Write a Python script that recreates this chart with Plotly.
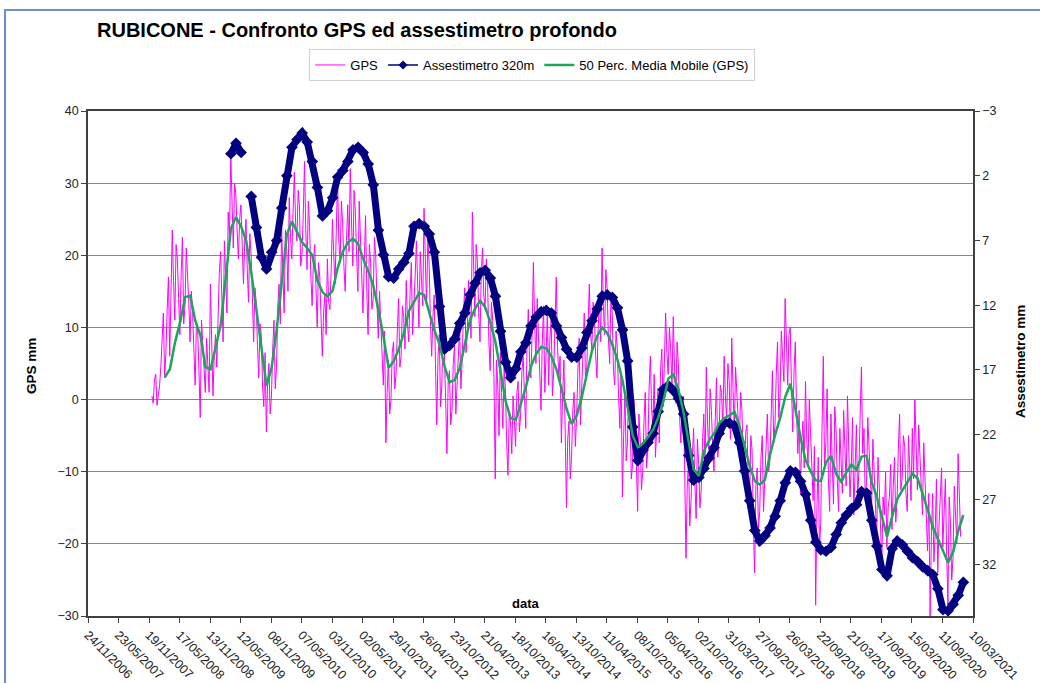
import pandas as pd
import plotly.graph_objects as go

# ---- data -------------------------------------------------------------
# GPS vertical displacement (mm), one reading every 7.5 days (180 h)
GPS_START = "2007-12-06"
GPS_STEP = "180h"
GPS_MM = [
    0.5, -0.5, 2.8, 3.5, -0.8, 0.8, 1.9, 4.5, 8.5, 12.0, 3.0, 6.5, 12.5, 17.0, 6.0, 14.0, 23.5, 16.5, 11.0, 21.5,
    19.5, 14.0, 9.0, 17.5, 22.5, 10.5, 13.0, 21.0, 18.0, 13.5, 8.0, 15.0, 12.0, 6.5, 2.0, 10.5, 9.5, 4.0, -2.5, 11.0,
    7.5, 3.5, 1.0, 8.5, 5.5, 1.0, 16.0, 9.5, 0.5, 6.0, 9.0, 4.5, 12.5, 17.5, 20.5, 13.0, 8.0, 22.0, 17.5, 12.0,
    26.0, 22.5, 34.0, 25.5, 21.0, 30.0, 28.5, 23.5, 19.5, 25.0, 27.0, 21.5, 16.0, 22.0, 25.0, 18.0, 13.5, 23.0, 20.0, 14.5,
    8.0, 15.5, 13.5, 7.5, 3.0, 10.5, 9.0, 2.0, -1.0, 6.5, -4.5, 2.5, 5.0, -2.0, 0.5, 7.0, 11.0, 1.5, 4.5, 13.0,
    16.0, 10.5, 24.0, 17.5, 12.0, 23.5, 21.0, 15.0, 28.0, 22.5, 19.5, 26.0, 31.5, 24.5, 22.0, 29.0, 27.0, 18.5, 20.0, 25.5,
    33.0, 23.5, 18.0, 27.5, 24.0, 17.0, 13.0, 19.0, 21.5, 15.5, 10.0, 19.0, 17.0, 11.5, 6.0, 12.0, 14.5, 9.0, 19.5, 13.5,
    12.5, 18.0, 25.0, 20.0, 16.0, 23.5, 30.5, 22.0, 19.0, 27.5, 24.5, 18.5, 15.0, 22.0, 27.0, 20.5, 32.0, 24.5, 18.5, 29.0,
    26.0, 20.0, 15.0, 27.5, 22.5, 16.5, 12.0, 19.0, 25.5, 15.0, 9.0, 21.5, 19.0, 12.5, 14.0, 22.5, 20.0, 13.5, 8.5, 15.0,
    11.0, 6.5, 2.0, 9.5, -6.0, 1.0, 5.5, -2.0, 0.0, 6.5, 8.0, 1.5, 3.5, 9.5, 14.0, 4.5, 6.0, 13.0, 11.5, 7.0,
    16.5, 10.5, 8.0, 14.5, 19.0, 9.0, 12.5, 17.0, 22.0, 15.5, 10.0, 20.5, 17.5, 13.0, 26.5, 18.5, 13.0, 22.5, 19.0, 11.0,
    6.0, 11.5, 14.5, 5.0, -3.5, 6.0, 9.0, -1.0, 2.0, 9.5, 6.5, 0.0, -7.5, 2.5, 4.0, -3.5, -1.5, 5.0, 7.5, -2.0,
    2.5, 7.0, 10.0, 1.5, 5.5, 12.0, 15.5, 6.5, 9.0, 16.5, 13.0, 8.5, 26.0, 16.0, 11.5, 21.5, 19.0, 12.0, 8.0, 17.5,
    21.0, 14.5, 12.5, 19.5, 16.0, 8.0, 4.0, 13.5, 11.0, 3.0, -11.0, 5.5, 2.0, -5.0, 6.5, 1.0, -4.0, 4.5, 1.5, -6.0,
    -10.5, -2.0, -3.0, -7.5, 0.5, -2.5, -6.5, 1.0, 2.5, -4.5, -2.0, 4.0, 6.0, 0.5, -4.0, 7.5, 12.5, 5.0, 3.0, 9.0,
    19.0, 10.5, 5.0, 14.0, 9.5, 2.5, -1.5, 8.0, 13.0, 1.0, 6.5, 12.0, 2.0, 8.5, 11.0, 0.5, 4.0, 12.5, 17.0, 7.5,
    3.0, 6.0, -6.0, 0.5, 5.5, -4.0, -15.0, -5.5, -3.0, -11.0, -8.0, -1.5, 1.0, -6.5, -2.5, 4.0, 8.5, -3.5, 0.5, 6.5,
    12.0, 2.5, 4.5, 10.5, 16.0, 9.0, 7.0, 13.5, 11.5, 6.0, 3.0, 10.0, 14.0, 8.0, 21.0, 13.0, 9.0, 18.0, 15.5, 8.5,
    5.0, 14.5, 12.0, 4.0, 2.0, 9.5, 7.0, 0.5, -4.0, 3.5, -13.5, -5.0, 1.0, -8.5, -6.0, 2.5, -1.5, -11.0, -9.0, 0.0,
    -3.0, -9.0, -15.5, -2.0, -5.5, -12.5, -10.0, -3.0, 1.0, -9.5, -7.0, 1.5, 6.0, -1.5, -3.5, 3.5, -8.0, -4.0, 1.5, -6.0,
    4.0, 7.0, -1.0, 5.0, 12.0, 6.5, 3.5, 10.0, 7.0, 1.5, 11.5, 4.5, -0.5, 8.0, 5.0, -2.5, -6.0, -1.0, 0.5, -10.0,
    -22.0, -12.0, -8.5, -17.5, -14.0, -8.0, -4.0, -11.5, -16.5, -5.5, -9.0, -15.0, -12.5, -6.0, -2.0, -9.5, 4.5, -3.5, -7.0, 1.5,
    -1.5, -6.5, -10.0, -3.0, 3.0, -8.0, -5.5, 2.0, 1.0, -4.0, 6.0, 0.5, -3.0, 5.0, 2.5, -5.5, 8.5, 1.5, -4.5, 4.5,
    0.5, -4.0, -6.0, 1.0, -1.5, -7.5, -10.0, -4.5, -3.5, -12.0, -14.0, -5.0, -7.0, -17.5, -24.0, -12.0, -9.5, -18.0, -15.5, -8.0,
    -5.0, -15.5, -12.0, -6.5, -2.0, -10.0, -8.5, -1.0, 4.0, -6.0, -3.5, 3.5, 8.0, -2.5, 0.5, 9.5, 6.5, 2.5, 14.0, 5.5,
    2.0, 9.0, 10.0, 1.5, -4.5, 4.0, 8.0, -2.0, -7.5, -1.5, -13.0, -6.0, -3.0, -9.5, 2.5, -5.5, -9.0, 0.0, -5.0, -11.5,
    -14.0, -6.5, -28.5, -15.0, -8.0, -21.0, -17.0, -4.0, 6.0, -9.5, -6.0, 1.5, -11.0, -15.5, -2.0, -8.5, -14.5, -1.0, -4.0, -11.0,
    -15.5, -4.0, -7.5, -13.0, -1.5, -8.0, -12.0, 0.5, -5.0, -13.5, -9.5, -2.5, -16.0, -9.0, -3.5, -13.5, -10.0, -2.0, 4.5, -7.5,
    -4.0, -14.0, -11.5, -2.5, -6.0, -11.0, -15.0, -5.5, -9.0, -14.5, -19.5, -8.0, -12.0, -17.5, -23.0, -13.5, -16.0, -10.0, -20.5, -15.0,
    -13.5, -9.0, -18.0, -12.0, -8.0, -17.0, -14.0, -7.0, -2.0, -12.5, -11.0, -5.0, -6.5, -13.0, -15.5, -5.0, -9.0, -14.0, -4.0, -11.0,
    0.0, -7.0, -12.5, -3.5, -7.5, -11.5, -16.0, -6.0, -10.5, -17.5, -21.0, -13.0, -30.0, -19.0, -13.0, -22.5, -18.5, -11.0, -24.0, -17.5,
    -14.0, -9.5, -20.5, -16.0, -11.0, -21.0, -28.5, -13.5, -17.0, -25.0, -22.0, -12.0, -15.5, -20.0, -7.5, -13.0, -19.0,
]

# monthly series (every 30 days): moving average of GPS and deep extensometer
MONTHLY_START = "2008-02-20"
MONTHLY_STEP = "30D"
MEDIA_MOBILE_MM = [
    3.1, 4.2, 7.9, 10.7, 14.2, 14.4, 10.9, 8.9, 4.5, 4.2,
    7.3, 10.4, 17.0, 23.7, 25.3, 24.0, 22.0, 17.6, 12.5, 6.8,
    1.9, 4.4, 9.7, 16.3, 22.9, 24.7, 23.2, 21.8, 21.0, 20.0,
    16.5, 14.9, 14.3, 15.1, 18.3, 20.5, 21.8, 22.3, 21.6, 19.5,
    17.8, 15.8, 12.4, 8.7, 4.4, 5.3, 7.0, 9.2, 12.3, 13.6,
    14.8, 14.5, 12.1, 9.6, 7.7, 4.6, 2.4, 2.7, 4.4, 7.8,
    11.0, 12.6, 13.7, 12.8, 10.7, 8.0, 3.6, -0.2, -2.6, -2.8,
    -0.6, 1.8, 4.6, 6.3, 7.3, 7.1, 6.0, 4.2, 1.5, -1.3,
    -3.4, -2.2, 0.4, 3.8, 6.8, 8.8, 10.0, 9.2, 7.6, 5.5,
    2.6, -1.1, -5.0, -6.6, -6.1, -5.2, -4.2, -2.5, -0.3, 2.9,
    3.5, 1.3, -1.8, -5.9, -9.7, -10.6, -7.1, -5.7, -4.7, -3.3,
    -2.6, -2.2, -1.7, -3.7, -6.5, -9.2, -11.3, -11.8, -11.1, -7.6,
    -4.9, -2.5, 0.4, 2.2, -1.4, -5.3, -8.4, -10.0, -11.2, -11.3,
    -8.7, -7.8, -10.3, -11.4, -10.1, -9.0, -9.7, -7.9, -7.8, -11.5,
    -13.5, -16.4, -19.0, -16.2, -13.8, -12.6, -11.5, -10.3, -10.9, -13.0,
    -15.3, -17.7, -19.3, -21.0, -22.6, -21.1, -18.2, -16.0,
]
ASSESTIMETRO_MM = [None] * 13 + [0.3, -0.5, 0.2, None] + [
    3.6, 6.0, 8.3, 9.2, 7.9, 7.0, 4.5, 2.0, -0.2, -0.8,
    -1.3, -0.6, 0.9, 2.9, 5.1, 4.7, 3.7, 2.1, 1.6, 0.9,
    0.0, -0.2, 0.2, 1.1, 2.7, 6.2, 8.1, 9.8, 9.9, 9.2,
    8.7, 8.0, 5.9, 5.7, 5.9, 6.5, 7.9, 12.1, 15.4, 15.1,
    14.6, 13.4, 12.6, 11.2, 10.3, 9.5, 9.3, 9.9, 11.3, 14.0,
    16.4, 17.6, 16.9, 15.6, 14.9, 13.6, 12.9, 12.5, 12.4, 12.6,
    13.6, 14.5, 15.4, 16.0, 16.0, 15.3, 14.1, 13.2, 12.3, 11.3,
    11.2, 11.4, 12.2, 13.9, 16.3, 21.4, 24.0, 23.2, 22.6, 21.9,
    20.2, 18.5, 18.2, 18.6, 19.2, 20.4, 23.6, 25.5, 25.3, 24.6,
    23.8, 23.0, 21.9, 21.1, 21.1, 21.3, 22.6, 24.8, 27.1, 29.4,
    30.2, 29.8, 29.2, 28.3, 27.1, 25.7, 24.8, 24.9, 25.6, 26.6,
    28.6, 30.3, 30.9, 31.0, 30.7, 29.7, 28.8, 28.2, 27.7, 27.4,
    26.4, 26.5, 28.6, 30.6, 32.4, 32.9, 30.8, 30.2, 30.5, 31.0,
    31.5, 31.8, 32.2, 32.5, 32.8, 33.9, 35.5, 35.6, 35.1, 34.4,
    33.4,
]

# date axis: one tick every 180 days
X_START = "2006-11-24"
X_END = "2021-03-10"
TICK_DATES = pd.date_range(X_START, X_END, freq="180D")
TICK_LABELS = [d.strftime("%d/%m/%Y") for d in TICK_DATES]

GPS_TICKS = [-30, -20, -10, 0, 10, 20, 30, 40]
ASS_TICKS = [-3, 2, 7, 12, 17, 22, 27, 32]

gps_dates = pd.date_range(GPS_START, periods=len(GPS_MM), freq=GPS_STEP)
monthly_dates = pd.date_range(MONTHLY_START, periods=len(MEDIA_MOBILE_MM), freq=MONTHLY_STEP)

# ---- figure -----------------------------------------------------------
FONT = "Liberation Sans, Arial, sans-serif"
AX = "#404040"

fig = go.Figure()

fig.add_trace(go.Scatter(
    x=gps_dates, y=GPS_MM, mode="lines", name="GPS",
    line=dict(color="#FF00FF", width=1), yaxis="y",
))
fig.add_trace(go.Scatter(
    x=monthly_dates, y=ASSESTIMETRO_MM, mode="lines+markers",
    line=dict(color="#000080", width=7),
    marker=dict(symbol="diamond", size=9, color="#000080"),
    yaxis="y2", showlegend=False, connectgaps=False,
))
fig.add_trace(go.Scatter(
    x=[None], y=[None], mode="lines+markers", name="Assestimetro 320m",
    line=dict(color="#000080", width=1.5),
    marker=dict(symbol="diamond", size=7, color="#000080"),
    yaxis="y2",
))
fig.add_trace(go.Scatter(
    x=monthly_dates, y=MEDIA_MOBILE_MM, mode="lines",
    name="50 Perc. Media Mobile (GPS)",
    line=dict(color="#1DA55A", width=2.5), yaxis="y3",
))

L, R, T, B = 88, 67, 111, 67
W, H = 1040, 683
pw, ph = W - L - R, H - T - B


def px_x(x):
    return (x - L) / pw


def px_y(y):
    return (H - B - y) / ph


tick_font = dict(family=FONT, size=12.5, color="#222222")

fig.update_layout(
    width=W, height=H, autosize=False,
    margin=dict(l=L, r=R, t=T, b=B, autoexpand=False),
    paper_bgcolor="white", plot_bgcolor="white",
    font=dict(family=FONT, size=12, color="black"),
    showlegend=True,
    legend=dict(
        orientation="h", x=0.502, xanchor="center", y=px_y(65), yanchor="middle",
        font=dict(family=FONT, size=13, color="black"),
        bordercolor="#D0D0D0", borderwidth=1, bgcolor="white",
        itemwidth=30,
    ),
    xaxis=dict(
        type="date", range=[X_START, X_END], automargin=False,
        tickmode="array", tickvals=TICK_DATES, ticktext=TICK_LABELS,
        tickangle=45, ticks="outside", ticklen=5, tickcolor=AX,
        showline=True, linecolor=AX, linewidth=1.5, mirror=True,
        showgrid=False, zeroline=False, tickfont=tick_font,
    ),
    yaxis=dict(
        range=[-30, 40], tickmode="array", tickvals=GPS_TICKS, automargin=False,
        ticks="outside", ticklen=5, tickcolor=AX,
        showline=True, linecolor=AX, linewidth=1.5,
        showgrid=True, gridcolor="#868686", gridwidth=1, zeroline=False,
        tickfont=tick_font,
    ),
    yaxis2=dict(
        overlaying="y", side="right", range=[36, -3], automargin=False,
        tickmode="array", tickvals=ASS_TICKS,
        ticks="outside", ticklen=5, tickcolor=AX,
        showline=True, linecolor=AX, linewidth=1.5,
        showgrid=False, zeroline=False, tickfont=tick_font,
    ),
    yaxis3=dict(overlaying="y", range=[-30, 40], visible=False, automargin=False),
)

fig.add_annotation(
    text="<b>RUBICONE - Confronto GPS ed assestimetro profondo</b>",
    xref="paper", yref="paper", x=px_x(95), y=px_y(30),
    xanchor="left", yanchor="middle", showarrow=False,
    font=dict(family=FONT, size=20, color="black"),
)
fig.add_annotation(
    text="<b>GPS mm</b>", textangle=-90,
    xref="paper", yref="paper", x=px_x(31), y=px_y(366),
    xanchor="center", yanchor="middle", showarrow=False,
    font=dict(family=FONT, size=13.5, color="black"),
)
fig.add_annotation(
    text="<b>Assestimetro mm</b>", textangle=-90,
    xref="paper", yref="paper", x=px_x(1020), y=px_y(362),
    xanchor="center", yanchor="middle", showarrow=False,
    font=dict(family=FONT, size=13.5, color="black"),
)
fig.add_annotation(
    text="<b>data</b>",
    xref="paper", yref="paper", x=px_x(526), y=px_y(603),
    xanchor="center", yanchor="middle", showarrow=False,
    font=dict(family=FONT, size=13, color="black"),
)

# outer chart frame
fig.add_shape(
    type="rect", xref="paper", yref="paper",
    x0=px_x(5), x1=px_x(1046), y0=px_y(692), y1=px_y(10),
    line=dict(color="#6D8FC9", width=2), fillcolor="rgba(0,0,0,0)",
)

fig.write_html("out.html")
